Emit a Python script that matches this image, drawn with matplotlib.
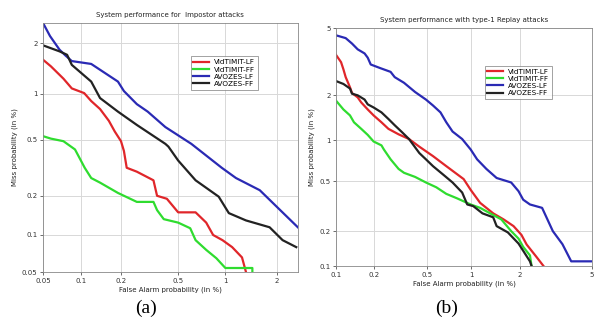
import numpy as np
import matplotlib
matplotlib.use('Agg')
import matplotlib.pyplot as plt
from math import erf

# ---- data (in %) ----
# (a) impostor attacks
a_vid_lf_fa = [0.05, 0.058, 0.073, 0.085, 0.106, 0.12, 0.14, 0.163, 0.18, 0.2, 0.21, 0.22, 0.26, 0.34, 0.36, 0.42, 0.5, 0.65, 0.76, 0.84, 0.96, 1.1, 1.26, 1.33]
a_vid_lf_miss = [1.61, 1.47, 1.24, 1.08, 1.01, 0.9, 0.8, 0.67, 0.57, 0.49, 0.42, 0.32, 0.30, 0.26, 0.2, 0.19, 0.15, 0.15, 0.125, 0.1, 0.091, 0.08, 0.066, 0.05]
a_vid_ff_fa = [0.05, 0.058, 0.073, 0.09, 0.1, 0.107, 0.12, 0.14, 0.19, 0.26, 0.34, 0.36, 0.4, 0.5, 0.6, 0.65, 0.76, 0.88, 1.0, 1.45, 1.45]
a_vid_ff_miss = [0.53, 0.51, 0.49, 0.43, 0.36, 0.32, 0.27, 0.25, 0.21, 0.18, 0.18, 0.156, 0.133, 0.125, 0.113, 0.091, 0.076, 0.065, 0.054, 0.054, 0.05]
a_avo_lf_fa = [0.05, 0.057, 0.068, 0.076, 0.085, 0.12, 0.19, 0.21, 0.26, 0.31, 0.41, 0.61, 0.95, 1.16, 1.6, 2.0, 2.6]
a_avo_lf_miss = [2.6, 2.2, 1.84, 1.70, 1.58, 1.52, 1.19, 1.04, 0.86, 0.77, 0.61, 0.47, 0.32, 0.27, 0.22, 0.165, 0.115]
a_avo_ff_fa = [0.05, 0.068, 0.078, 0.085, 0.12, 0.14, 0.19, 0.26, 0.41, 0.43, 0.5, 0.65, 0.91, 1.05, 1.33, 1.82, 2.15, 2.55]
a_avo_ff_miss = [1.95, 1.8, 1.72, 1.5, 1.19, 0.94, 0.77, 0.63, 0.47, 0.45, 0.36, 0.26, 0.197, 0.148, 0.13, 0.115, 0.091, 0.08]

# (b) type-1 replay attacks
b_vid_lf_fa = [0.1, 0.11, 0.115, 0.12, 0.13, 0.135, 0.15, 0.16, 0.18, 0.2, 0.23, 0.26, 0.31, 0.37, 0.44, 0.55, 0.68, 0.89, 0.99, 1.14, 1.38, 1.6, 1.84, 2.05, 2.2, 2.5, 2.75]
b_vid_lf_miss = [3.53, 3.2, 2.9, 2.6, 2.25, 2.07, 1.94, 1.8, 1.62, 1.48, 1.33, 1.2, 1.1, 1.02, 0.9, 0.77, 0.65, 0.52, 0.43, 0.34, 0.28, 0.25, 0.22, 0.186, 0.154, 0.121, 0.1]
b_vid_ff_fa = [0.1, 0.115, 0.13, 0.14, 0.16, 0.18, 0.2, 0.23, 0.24, 0.27, 0.31, 0.34, 0.41, 0.49, 0.58, 0.68, 0.8, 0.99, 1.14, 1.32, 1.55, 1.78, 1.97, 2.1, 2.3, 2.35]
b_vid_ff_miss = [1.85, 1.62, 1.48, 1.33, 1.2, 1.09, 0.98, 0.92, 0.86, 0.73, 0.62, 0.58, 0.54, 0.49, 0.45, 0.4, 0.37, 0.33, 0.31, 0.28, 0.25, 0.2, 0.173, 0.147, 0.124, 0.1]
b_avo_lf_fa = [0.1, 0.12, 0.135, 0.15, 0.17, 0.18, 0.19, 0.225, 0.27, 0.29, 0.34, 0.41, 0.49, 0.55, 0.62, 0.68, 0.75, 0.87, 0.99, 1.09, 1.25, 1.45, 1.78, 1.97, 2.1, 2.3, 2.7, 3.1, 3.5, 3.9, 5.0]
b_avo_lf_miss = [4.56, 4.4, 4.1, 3.8, 3.6, 3.4, 3.1, 2.95, 2.8, 2.6, 2.4, 2.1, 1.88, 1.72, 1.55, 1.33, 1.15, 1.02, 0.86, 0.73, 0.62, 0.53, 0.49, 0.42, 0.36, 0.33, 0.31, 0.2, 0.155, 0.11, 0.11]
b_avo_ff_fa = [0.1, 0.115, 0.13, 0.135, 0.15, 0.17, 0.18, 0.2, 0.23, 0.26, 0.29, 0.325, 0.37, 0.44, 0.49, 0.55, 0.65, 0.75, 0.87, 0.94, 1.03, 1.18, 1.38, 1.45, 1.7, 1.97, 2.1, 2.3, 2.35]
b_avo_ff_miss = [2.46, 2.36, 2.21, 2.05, 2.0, 1.88, 1.75, 1.67, 1.55, 1.4, 1.27, 1.15, 1.02, 0.81, 0.73, 0.65, 0.56, 0.49, 0.41, 0.33, 0.32, 0.28, 0.26, 0.22, 0.195, 0.157, 0.136, 0.11, 0.1]

labels = ['VidTIMIT-LF', 'VidTIMIT-FF', 'AVOZES-LF', 'AVOZES-FF']
colors = ['#e0262a', '#2fdc2f', '#2a2ab4', '#222222']
ticks_a = [0.05, 0.1, 0.2, 0.5, 1, 2]
ticks_b = [0.1, 0.2, 0.5, 1, 2, 5]


def ppf(p):
    # Acklam's approximation of the normal quantile, p in (0, 1)
    p = np.clip(np.asarray(p, dtype=float), 1e-12, 1 - 1e-12)
    a = [-3.969683028665376e+01, 2.209460984245205e+02, -2.759285104469687e+02,
         1.383577518672690e+02, -3.066479806614716e+01, 2.506628277459239e+00]
    b = [-5.447609879822406e+01, 1.615858368580409e+02, -1.556989798598866e+02,
         6.680131188771972e+01, -1.328068155288572e+01]
    c = [-7.784894002430293e-03, -3.223964580411365e-01, -2.400758277161838e+00,
         -2.549732539343734e+00, 4.374664141464968e+00, 2.938163982698783e+00]
    d = [7.784695709041462e-03, 3.224671290700398e-01, 2.445134137142996e+00,
         3.754408661907416e+00]
    q = np.minimum(p, 1 - p)
    t = np.sqrt(-2 * np.log(q))
    tail = (((((c[0]*t + c[1])*t + c[2])*t + c[3])*t + c[4])*t + c[5]) / \
           ((((d[0]*t + d[1])*t + d[2])*t + d[3])*t + 1)
    r = (p - 0.5) ** 2
    u = p - 0.5
    mid = (((((a[0]*r + a[1])*r + a[2])*r + a[3])*r + a[4])*r + a[5])*u / \
          (((((b[0]*r + b[1])*r + b[2])*r + b[3])*r + b[4])*r + 1)
    low = np.where(p < 0.5, tail, -tail)
    return np.where(q < 0.02425, low, mid)


def fwd(x):
    return ppf(np.asarray(x, dtype=float) / 100.0)


def inv(z):
    z = np.asarray(z, dtype=float)
    return np.vectorize(lambda v: 50.0 * (1 + erf(v / np.sqrt(2))))(z)


def det_panel(ax, curves, ticks, lims, title, leg_anchor):
    for (fa, miss), lab, col in zip(curves, labels, colors):
        ax.plot(fa, miss, color=col, lw=1.6, label=lab)
    ax.set_xscale('function', functions=(fwd, inv))
    ax.set_yscale('function', functions=(fwd, inv))
    ax.set_xlim(lims[0])
    ax.set_ylim(lims[1])
    ax.set_xticks(ticks)
    ax.set_yticks(ticks)
    ax.set_xticklabels([str(t) for t in ticks])
    ax.set_yticklabels([str(t) for t in ticks])
    ax.minorticks_off()
    ax.grid(True, color='#d8d8d8', lw=0.7)
    ax.tick_params(labelsize=5, length=2, width=0.5, colors='#333333', pad=2)
    for s in ax.spines.values():
        s.set_color('#888888')
        s.set_linewidth(0.6)
    ax.set_title(title, fontsize=5, color='#222222', pad=4)
    ax.set_xlabel('False Alarm probability (in %)', fontsize=5, color='#222222', labelpad=2)
    ax.set_ylabel('Miss probability (in %)', fontsize=5, color='#222222', labelpad=3)
    leg = ax.legend(loc='upper left', bbox_to_anchor=leg_anchor, fontsize=5.2,
                    frameon=True, fancybox=False, edgecolor='#777777',
                    handlelength=2.2, borderpad=0.4, labelspacing=0.15,
                    handletextpad=0.6)
    leg.get_frame().set_linewidth(0.6)


fig = plt.figure(figsize=(5.94, 3.26), dpi=100)

ax1 = fig.add_axes([0.0724, 0.1656, 0.429, 0.764])
det_panel(ax1,
          [(a_vid_lf_fa, a_vid_lf_miss), (a_vid_ff_fa, a_vid_ff_miss),
           (a_avo_lf_fa, a_avo_lf_miss), (a_avo_ff_fa, a_avo_ff_miss)],
          ticks_a, [(0.05, 2.6), (0.05, 2.6)],
          'System performance for  Impostor attacks', (0.565, 0.88))

ax2 = fig.add_axes([0.5657, 0.184, 0.431, 0.730])
det_panel(ax2,
          [(b_vid_lf_fa, b_vid_lf_miss), (b_vid_ff_fa, b_vid_ff_miss),
           (b_avo_lf_fa, b_avo_lf_miss), (b_avo_ff_fa, b_avo_ff_miss)],
          ticks_b, [(0.1, 5), (0.1, 5)],
          'System performance with type-1 Replay attacks', (0.566, 0.857))

fig.text(0.245, 0.04, '(a)', fontsize=14, family='Liberation Serif', ha='center')
fig.text(0.752, 0.04, '(b)', fontsize=14, family='Liberation Serif', ha='center')

fig.savefig('out.png', dpi=100, facecolor='white')
